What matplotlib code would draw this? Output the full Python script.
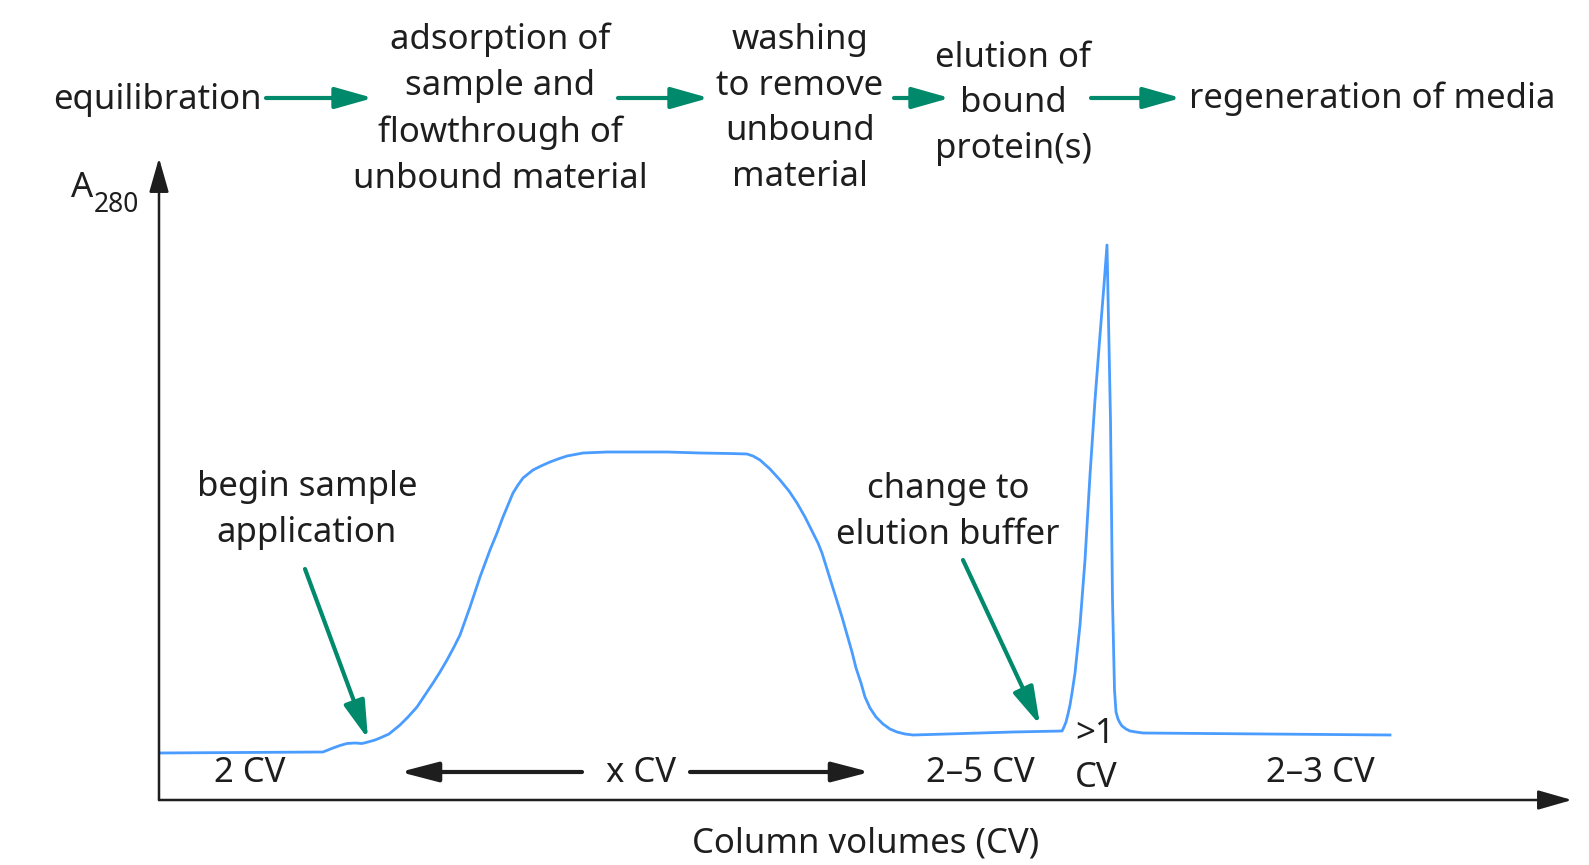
# affinity_chromatogram.py
# Schematic affinity chromatography run: A280 vs column volumes

import matplotlib.pyplot as plt

plt.rcParams["font.family"] = ["Noto Sans", "DejaVu Sans"]

# Curve (x in column volumes, y in arbitrary A280 units)
cv = [0.00, 1.64, 1.69, 1.74, 1.81, 1.88, 1.96, 2.03, 2.09, 2.16, 2.21, 2.30,
      2.41, 2.49, 2.58, 2.66, 2.74, 2.81, 2.88, 2.95, 3.01, 3.11, 3.21, 3.31,
      3.38, 3.44, 3.49, 3.54, 3.59, 3.64, 3.69, 3.74, 3.82, 3.91, 3.99, 4.08,
      4.16, 4.24, 4.36, 4.48, 5.08, 5.41, 5.71, 5.88, 5.94, 6.01, 6.11, 6.21,
      6.30, 6.38, 6.46, 6.54, 6.59, 6.63, 6.73, 6.83, 6.93, 6.97, 7.02, 7.06,
      7.11, 7.17, 7.24, 7.31, 7.38, 7.46, 7.54, 7.88, 8.21, 8.54, 9.03, 9.05,
      9.07, 9.09, 9.11, 9.13, 9.16, 9.21, 9.26, 9.31, 9.36, 9.41, 9.45, 9.48,
      9.515, 9.535, 9.555, 9.57, 9.59, 9.61, 9.63, 9.67, 9.71, 9.77, 9.84,
      12.31]
a280 = [0.47, 0.48, 0.50, 0.52, 0.545, 0.565, 0.57, 0.565, 0.58, 0.60, 0.62,
        0.66, 0.75, 0.83, 0.93, 1.05, 1.17, 1.28, 1.40, 1.53, 1.65, 1.93, 2.23,
        2.50, 2.67, 2.83, 2.95, 3.07, 3.15, 3.22, 3.26, 3.30, 3.34, 3.38, 3.41,
        3.44, 3.455, 3.47, 3.475, 3.48, 3.48, 3.47, 3.465, 3.46, 3.44, 3.40,
        3.31, 3.20, 3.09, 2.97, 2.83, 2.67, 2.57, 2.47, 2.15, 1.83, 1.48, 1.32,
        1.17, 1.03, 0.92, 0.83, 0.76, 0.71, 0.68, 0.66, 0.65, 0.66, 0.67, 0.68,
        0.69, 0.73, 0.78, 0.86, 0.95, 1.07, 1.27, 1.75, 2.40, 3.25, 4.00, 4.65,
        5.15, 5.55, 3.80, 2.00, 1.10, 0.88, 0.81, 0.77, 0.74, 0.71, 0.69, 0.68,
        0.67, 0.65]

steps = ["equilibration",
         "adsorption of\nsample and\nflowthrough of\nunbound material",
         "washing\nto remove\nunbound\nmaterial",
         "elution of\nbound\nprotein(s)",
         "regeneration of media"]
volumes = ["2 CV", "x CV", "2\u20135 CV", ">1\nCV", "2\u20133 CV"]

W, H = 1589, 865
blue = "#4a9cff"
green = "#00896b"
ink = "#1e1e1e"

fig = plt.figure(figsize=(W / 100, H / 100), dpi=100)

# main plot axes, placed where the reference axes are
ax = fig.add_axes([159 / W, 65 / H, (1572 - 159) / W, (800 - 158) / H])
ax.plot(cv, a280, color=blue, lw=2.0, solid_joinstyle="round")
ax.set_xlim(0, 14.13)
ax.set_ylim(0, 6.42)
for s in ax.spines.values():
    s.set_visible(False)
ax.set_xticks([])
ax.set_yticks([])
ax.patch.set_alpha(0)
axis_arrow = dict(arrowstyle="-|>,head_length=2.1,head_width=0.6",
                  mutation_scale=10, lw=1.8, color=ink,
                  shrinkA=0, shrinkB=0)
ax.annotate("", xy=(1, 0), xytext=(0, 0), xycoords="axes fraction",
            arrowprops=axis_arrow, annotation_clip=False)
ax.annotate("", xy=(0, 1), xytext=(0, 0), xycoords="axes fraction",
            arrowprops=axis_arrow, annotation_clip=False)

# overlay in pixel units for labels and arrows
ov = fig.add_axes([0, 0, 1, 1], zorder=-1)
ov.set_xlim(0, W)
ov.set_ylim(H, 0)
ov.set_axis_off()

fs = 25

# process steps along the top
step_pos = [(157, 100), (500, 109), (800, 108.5), (1013, 103.5), (1372, 99)]
for txt, (x, y) in zip(steps, step_pos):
    ov.text(x, y, txt, ha="center", va="center", fontsize=fs, color=ink,
            linespacing=1.46)

green_arrow = dict(arrowstyle="-|>,head_length=2.3,head_width=0.65",
                   mutation_scale=10, lw=3.0, color=green,
                   shrinkA=0, shrinkB=0)
for x0, x1 in [(266, 373), (618, 709), (894, 950), (1091, 1181)]:
    ov.annotate("", xy=(x1, 98), xytext=(x0, 98), arrowprops=green_arrow)

# axis labels
ov.text(71, 188, "A", ha="left", va="center", fontsize=fs, color=ink)
ov.text(94, 205, "280", ha="left", va="center", fontsize=19, color=ink)
ov.text(866, 843, "Column volumes (CV)", ha="center", va="center",
        fontsize=fs, color=ink)

# volumes per step
vol_pos = [(250, 773), (641, 773), (980, 773), (1075, 756), (1320, 773)]
for txt, (x, y) in zip(volumes, vol_pos):
    ha = "left" if "\n" in txt else "center"
    ov.text(x, y, txt, ha=ha, va="center", fontsize=fs, color=ink,
            linespacing=1.4)

black_arrow = dict(arrowstyle="-|>,head_length=2.3,head_width=0.6",
                   mutation_scale=10, lw=3.0, color=ink,
                   shrinkA=0, shrinkB=0)
ov.annotate("", xy=(400, 772), xytext=(582, 772), arrowprops=black_arrow)
ov.annotate("", xy=(870, 772), xytext=(690, 772), arrowprops=black_arrow)

# event annotations
ov.text(307, 510, "begin sample\napplication", ha="center", va="center",
        fontsize=fs, color=ink, linespacing=1.5)
ov.annotate("", xy=(368, 739), xytext=(305, 569), arrowprops=green_arrow)
ov.text(948, 512, "change to\nelution buffer", ha="center", va="center",
        fontsize=fs, color=ink, linespacing=1.5)
ov.annotate("", xy=(1040, 725), xytext=(963, 560), arrowprops=green_arrow)

fig.savefig("out.png", dpi=100)
